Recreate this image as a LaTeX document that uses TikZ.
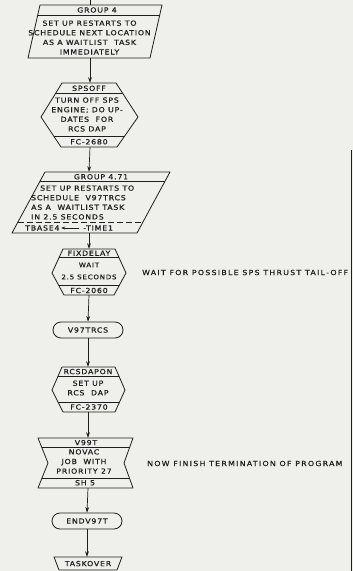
\documentclass[tikz,border=0pt]{standalone}
\usepackage{fontspec}
\newfontfamily\lettering[LetterSpace=11,FakeStretch=1.12,FakeBold=0.6]{DejaVu Sans}
\newfontfamily\remark[LetterSpace=18,FakeStretch=1.12,FakeBold=0.6]{DejaVu Sans}
\usetikzlibrary{arrows.meta}
\definecolor{paper}{RGB}{239,239,235}
\definecolor{ink}{RGB}{30,30,30}
\begin{document}
\begin{tikzpicture}[x=1pt,y=-1pt,
  outline/.style={draw=ink, line width=0.8pt, line join=round},
  rule/.style={draw=ink, line width=0.6pt},
  flow/.style={draw=ink, line width=0.7pt, -{Stealth[length=5.5pt,width=3.8pt]}},
  lbl/.style={font=\lettering\fontsize{7}{9.6}\selectfont, text=ink, inner sep=0pt, align=center},
  narrow/.style={font=\lettering\fontsize{6.4}{9.6}\selectfont},
  note/.style={font=\remark\fontsize{7}{9.6}\selectfont, text=ink, inner sep=0pt, anchor=west},
  hit/.style={inner sep=0pt, draw=none, minimum width=60pt},
  term/.style={lbl, outline, rounded corners=8pt, minimum width=70pt, minimum height=16pt}
]
\fill[paper] (0,0) rectangle (353,571);
\useasboundingbox (0,0) rectangle (353,571);

% right-hand margin rule
\draw[ink, line width=0.7pt] (351,150) -- (351,571);

% ---------------- GROUP 4 (parallelogram) ----------------
\node[hit, minimum height=53pt] (g4) at (90,31.5) {};
\begin{scope}
  \clip (40,5) -- (162,5) -- (150,58) -- (28,58) -- cycle;
  \draw[rule] (20,15) -- (170,15);
\end{scope}
\draw[outline] (40,5) -- (162,5) -- (150,58) -- (28,58) -- cycle;
\node[lbl] (g4h) at (97,10) {GROUP 4};
\node[lbl] (g4t) at (89.5,37.5) {SET UP RESTARTS TO\\SCHEDULE NEXT LOCATION\\AS A WAITLIST~~TASK\\IMMEDIATELY};

% ---------------- SPSOFF (hexagon) ----------------
\node[hit, minimum height=64pt] (sps) at (90,115) {};
\begin{scope}
  \clip (62,83) -- (116,83) -- (138,117) -- (117,147) -- (61,147) -- (41,117) -- cycle;
  \draw[rule] (30,93) -- (150,93);
  \draw[rule] (30,136) -- (150,136);
\end{scope}
\draw[outline] (62,83) -- (116,83) -- (138,117) -- (117,147) -- (61,147) -- (41,117) -- cycle;
\node[lbl] (spsh) at (89,88.3) {SPSOFF};
\node[lbl] (spst) at (87,114.5) {TURN OFF SPS\\ENGINE; DO UP-\\DATES~~FOR\\RCS DAP};
\node[lbl] (spsf) at (89,141.8) {FC-2680};

% ---------------- GROUP 4.71 (parallelogram) ----------------
\node[hit, minimum height=61pt] (g471) at (89,202.5) {};
\begin{scope}
  \clip (45,172) -- (170,172) -- (137,233) -- (12,233) -- cycle;
  \draw[rule] (0,181) -- (180,181);
  \draw[rule, dashed, dash pattern=on 6pt off 3pt] (0,222) -- (180,222);
\end{scope}
\draw[outline] (45,172) -- (170,172) -- (137,233) -- (12,233) -- cycle;
\node[lbl] (g471h) at (101,176.8) {GROUP 4.71};
\node[lbl, align=left, anchor=west] (g471t) at (31,202.5)
  {\hspace*{9pt}SET UP RESTARTS TO\\SCHEDULE~~V97TRCS\\AS A~~WAITLIST TASK\\IN 2.5 SECONDS};
\node[lbl, anchor=west] (tb) at (25,228) {TBASE4};
\node[lbl, anchor=west] (tm) at (83,228) {-TIME1};
\draw[draw=ink, line width=0.6pt, -{Stealth[length=4pt,width=3pt]}] ([xshift=-4pt]tm.west) -- ([xshift=1.5pt]tb.east);

% ---------------- FIXDELAY (hexagon) ----------------
\node[hit, minimum height=46pt] (fix) at (89,272) {};
\begin{scope}
  \clip (63,249) -- (115,249) -- (126,273) -- (114,295) -- (64,295) -- (52,273) -- cycle;
  \draw[rule] (40,257) -- (140,257);
  \draw[rule] (40,285) -- (140,285);
\end{scope}
\draw[outline] (63,249) -- (115,249) -- (126,273) -- (114,295) -- (64,295) -- (52,273) -- cycle;
\node[lbl] (fixh) at (89,253.2) {FIXDELAY};
\node[lbl, narrow] (fixt) at (89,271) {WAIT\\[2.4pt]2.5 SECONDS};
\node[lbl] (fixf) at (89,290.5) {FC-2060};
\node[note] (note1) at (142,272.5) {WAIT FOR POSSIBLE SPS THRUST TAIL-OFF};

% ---------------- V97TRCS (terminal) ----------------
\node[term] (v97) at (88,330) {V97TRCS};

% ---------------- RCSDAPON (hexagon) ----------------
\node[hit, minimum height=45pt] (rcs) at (88,389.5) {};
\begin{scope}
  \clip (62,367) -- (115,367) -- (125,390) -- (115,412) -- (63,412) -- (52,390) -- cycle;
  \draw[rule] (40,376) -- (140,376);
  \draw[rule] (40,402) -- (140,402);
\end{scope}
\draw[outline] (62,367) -- (115,367) -- (125,390) -- (115,412) -- (63,412) -- (52,390) -- cycle;
\node[lbl] (rcsh) at (88,371.6) {RCSDAPON};
\node[lbl] (rcst) at (88,388) {SET UP\\RCS~~DAP};
\node[lbl] (rcsf) at (89,407) {FC-2370};

% ---------------- V99T (concave hexagon) ----------------
\node[hit, minimum height=50pt] (v99) at (88,463) {};
\begin{scope}
  \clip (38,438) -- (133,438) -- (124,463) -- (133,488) -- (38,488) -- (48,463) -- cycle;
  \draw[rule] (30,447) -- (140,447);
  \draw[rule] (30,478) -- (140,478);
\end{scope}
\draw[outline] (38,438) -- (133,438) -- (124,463) -- (133,488) -- (38,488) -- (48,463) -- cycle;
\node[lbl] (v99h) at (86,442.6) {V99T};
\node[lbl] (v99t) at (84,461.5) {NOVAC\\JOB~~WITH\\PRIORITY 27};
\node[lbl] (v99f) at (85,482.8) {SH 5};
\node[note] (note2) at (147,463.5) {NOW FINISH TERMINATION OF PROGRAM};

% ---------------- ENDV97T (terminal) ----------------
\node[term] (endt) at (87,521) {ENDV97T};

% ---------------- TASKOVER (trapezoid) ----------------
\node[hit, minimum height=14pt] (task) at (87,564) {};
\draw[outline] (54,557) -- (122,557) -- (117,570) -- (59,570) -- cycle;
\node[lbl] (taskt) at (88,563.6) {TASKOVER};

% ---------------- flow lines ----------------
\coordinate (entry) at (90,0);
\draw[draw=ink, line width=0.7pt] (entry) -- (g4.north);
\draw[flow] (g4.south) -- (sps.north);
\draw[flow] (sps.south) -- (g471.north);
\draw[flow] (g471.south) -- (fix.north);
\draw[flow] (fix.south) -- (v97.north);
\draw[flow] (v97.south) -- (rcs.north);
\draw[flow] (rcs.south) -- (v99.north);
\draw[flow] (v99.south) -- (endt.north);
\draw[flow] (endt.south) -- (task.north);
\end{tikzpicture}
\end{document}
